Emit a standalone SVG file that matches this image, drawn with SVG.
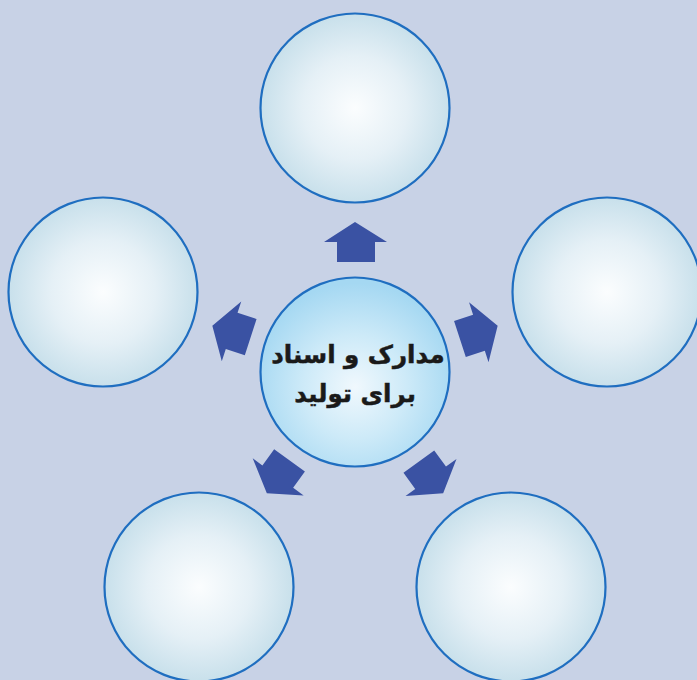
<svg xmlns="http://www.w3.org/2000/svg" width="697" height="680" viewBox="0 0 697 680">
<defs>
<radialGradient id="g" cx="50%" cy="50%" r="50%">
<stop offset="0" stop-color="#fbfdfe"/>
<stop offset="0.55" stop-color="#e5f0f6"/>
<stop offset="1" stop-color="#c8e0eb"/>
</radialGradient>
<radialGradient id="gc" cx="50%" cy="58%" r="55%">
<stop offset="0" stop-color="#f0f8fd"/>
<stop offset="0.5" stop-color="#cdeaf8"/>
<stop offset="1" stop-color="#a5d8f2"/>
</radialGradient>
<path id="arr" d="M355 222 L387 242 L375 242 L375 262 L337 262 L337 242 L324 242 Z"/>
</defs>
<style>
.c{fill:url(#g);stroke:#1f6ec0;stroke-width:2.2}
.cc{fill:url(#gc);stroke:#1f6ec0;stroke-width:2.2}
.a{fill:#3a52a3}
.t{font-family:"DejaVu Sans",sans-serif;font-weight:bold;font-size:24.5px;fill:#1a1a1a;stroke:#1a1a1a;stroke-width:0.5;text-anchor:middle}
</style>
<rect width="697" height="680" fill="#c8d2e6"/>
<g id="connectors">
<use href="#arr" class="a"/>
<use href="#arr" class="a" transform="rotate(72 355 372)"/>
<use href="#arr" class="a" transform="rotate(144 355 372)"/>
<use href="#arr" class="a" transform="rotate(-144 355 372)"/>
<use href="#arr" class="a" transform="rotate(-72 355 372)"/>
</g>
<g id="top"><circle class="c" cx="355" cy="108" r="94.5"/></g>
<g id="right"><circle class="c" cx="607" cy="292" r="94.5"/></g>
<g id="left"><circle class="c" cx="103" cy="292" r="94.5"/></g>
<g id="bottom-left"><circle class="c" cx="199" cy="587" r="94.5"/></g>
<g id="bottom-right"><circle class="c" cx="511" cy="587" r="94.5"/></g>
<g id="center">
<circle class="cc" cx="355" cy="372" r="94.5"/>
<text class="t" x="358" y="363" direction="rtl">مدارک و اسناد</text>
<text class="t" x="355" y="402" direction="rtl">برای تولید</text>
</g>
</svg>
